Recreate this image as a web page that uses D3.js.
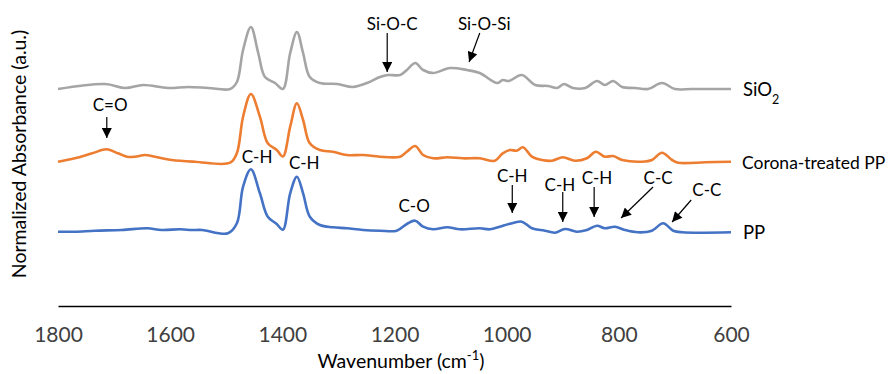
<!DOCTYPE html>
<html lang="en">

<head>
    <meta charset="UTF-8" />
    <title>FTIR spectra</title>
    <script src="https://d3js.org/d3.v7.min.js"></script>
    <style>
        body {
            margin: 0;
            background: #fff;
        }

        text {
            font-family: "Lato", sans-serif;
            fill: #000;
        }

        .tick-label {
            font-size: 21px;
            fill: #404040;
        }

        .axis-title {
            font-size: 19.5px;
        }

        .series-label {
            font-size: 18.5px;
        }

        .note {
            font-size: 17px;
        }
    </style>
</head>

<body>
    <svg width="890" height="374"></svg>
    <script>
        // spectra: [wavenumber, normalized absorbance (offset)]
        const sio2Points = [
            [1800, 2.17], [1716, 2.22], [1680, 2.18], [1648, 2.21], [1604, 2.18], [1568, 2.19], [1532, 2.18],
            [1493, 2.17], [1481, 2.24], [1470, 2.56], [1456, 2.79], [1443, 2.53], [1431, 2.29], [1413, 2.23],
            [1399, 2.17], [1386, 2.53], [1374, 2.74], [1363, 2.53], [1351, 2.29], [1333, 2.23], [1302, 2.22],
            [1274, 2.19], [1249, 2.23], [1226, 2.29], [1212, 2.31], [1190, 2.31], [1178, 2.36], [1163, 2.43],
            [1149, 2.36], [1131, 2.33], [1101, 2.38], [1071, 2.36], [1048, 2.33], [1017, 2.23], [1007, 2.26],
            [996, 2.25], [973, 2.31], [949, 2.21], [926, 2.20], [910, 2.18], [898, 2.22], [882, 2.18],
            [860, 2.18], [839, 2.25], [825, 2.21], [810, 2.25], [794, 2.19], [771, 2.18], [748, 2.17],
            [723, 2.23], [700, 2.17], [670, 2.17], [600, 2.17]
        ];
        const coronaPoints = [
            [1800, 1.443], [1770, 1.477], [1739, 1.527], [1713, 1.567], [1693, 1.527], [1677, 1.493], [1663, 1.493],
            [1645, 1.51], [1627, 1.493], [1597, 1.46], [1556, 1.443], [1493, 1.433], [1481, 1.53], [1470, 1.893],
            [1456, 2.12], [1440, 1.893], [1426, 1.627], [1410, 1.56], [1399, 1.495], [1386, 1.793], [1374, 2.027],
            [1363, 1.86], [1351, 1.627], [1333, 1.56], [1310, 1.543], [1285, 1.51], [1256, 1.51], [1226, 1.493],
            [1190, 1.493], [1178, 1.543], [1163, 1.60], [1149, 1.51], [1131, 1.477], [1106, 1.487], [1078, 1.477],
            [1048, 1.477], [1021, 1.453], [1007, 1.527], [994, 1.56], [982, 1.553], [971, 1.587], [955, 1.493],
            [937, 1.46], [919, 1.453], [900, 1.487], [878, 1.453], [857, 1.477], [841, 1.543], [825, 1.493],
            [810, 1.50], [794, 1.46], [759, 1.443], [741, 1.46], [723, 1.533], [705, 1.46], [694, 1.433],
            [646, 1.437], [600, 1.443]
        ];
        const ppPoints = [
            [1800, 0.743], [1770, 0.743], [1734, 0.753], [1686, 0.76], [1641, 0.777], [1615, 0.76], [1582, 0.767],
            [1561, 0.76], [1543, 0.76], [1497, 0.727], [1481, 0.827], [1470, 1.193], [1456, 1.367], [1440, 1.127],
            [1426, 0.893], [1410, 0.82], [1399, 0.763], [1386, 1.127], [1374, 1.293], [1363, 1.127], [1351, 0.893],
            [1333, 0.81], [1310, 0.787], [1285, 0.777], [1256, 0.76], [1226, 0.753], [1196, 0.753], [1178, 0.82],
            [1163, 0.853], [1149, 0.793], [1131, 0.767], [1106, 0.787], [1083, 0.767], [1048, 0.777], [1030, 0.767],
            [1012, 0.793], [996, 0.82], [973, 0.843], [955, 0.777], [932, 0.753], [914, 0.733], [896, 0.77],
            [875, 0.743], [857, 0.76], [839, 0.803], [825, 0.777], [807, 0.793], [789, 0.76], [766, 0.737],
            [741, 0.753], [721, 0.827], [703, 0.753], [687, 0.737], [600, 0.737]
        ];

        const seriesNames = ["SiO2", "Corona-treated PP", "PP"];
        const seriesColors = ["#a5a5a5", "#ed7d31", "#4472c4"];
        const xTicks = [1800, 1600, 1400, 1200, 1000, 800, 600];

        // band annotations: label, text anchor [wn, abs], arrow start and tip (null = no arrow)
        const notes = [
            ["C=O", [1707, 1.95], [1713, 1.89], [1713, 1.68]],
            ["Si-O-C", [1204, 2.76], [1213, 2.73], [1213, 2.34]],
            ["Si-O-Si", [1040, 2.76], [1048, 2.73], [1067, 2.44]],
            ["C-H", [1445, 1.43], null, null],
            ["C-H", [1361, 1.37], null, null],
            ["C-O", [1165, 0.94], null, null],
            ["C-H", [990, 1.24], [990, 1.21], [990, 0.93]],
            ["C-H", [905, 1.15], [900, 1.14], [900, 0.84]],
            ["C-H", [839, 1.22], [844, 1.19], [844, 0.89]],
            ["C-C", [730, 1.22], [739, 1.19], [796, 0.88]],
            ["C-C", [643, 1.10], [671, 1.06], [705, 0.84]]
        ];

        var svg = d3.select("svg");

        var x = d3.scaleLinear().domain([1800, 600]).range([58, 731]);
        var y = d3.scaleLinear().domain([0, 3.06]).range([306, 0]);

        svg.append("defs").append("marker")
            .attr("id", "head")
            .attr("viewBox", "0 0 10 10")
            .attr("refX", 10)
            .attr("refY", 5)
            .attr("markerUnits", "userSpaceOnUse")
            .attr("markerWidth", 11)
            .attr("markerHeight", 10)
            .attr("orient", "auto")
            .append("path")
            .attr("d", "M0,0L10,5L0,10Z")
            .attr("fill", "#000");

        // x axis: only the domain line and labels
        var xAxis = svg.append("g")
            .attr("transform", "translate(0,306)")
            .call(d3.axisBottom(x).tickValues(xTicks).tickSize(0).tickPadding(0).tickFormat(d3.format("d")));
        xAxis.select(".domain").attr("stroke", "#000").attr("stroke-width", 1.3);
        xAxis.selectAll(".tick text")
            .attr("class", "tick-label")
            .attr("font-family", null)
            .attr("font-size", null)
            .attr("dy", null)
            .attr("y", 36);

        // spectra
        var line = d3.line()
            .x(d => x(d[0]))
            .y(d => y(d[1]))
            .curve(d3.curveCatmullRom.alpha(0.5));

        [sio2Points, coronaPoints, ppPoints].forEach(function(pts, i) {
            svg.append("path")
                .datum(pts)
                .attr("d", line)
                .attr("fill", "none")
                .attr("stroke", seriesColors[i])
                .attr("stroke-width", 2.6)
                .attr("stroke-linejoin", "round");
        });

        // series labels at the right end
        var labelX = 743;
        var sioLabel = svg.append("text")
            .attr("class", "series-label")
            .attr("x", labelX)
            .attr("y", y(sio2Points[sio2Points.length - 1][1]) + 7);
        sioLabel.append("tspan").text("SiO");
        sioLabel.append("tspan").attr("font-size", 12.5).attr("dy", 8).text("2");

        // the long label is a bit smaller so it stays inside the frame
        svg.append("text")
            .attr("class", "series-label")
            .attr("x", labelX - 1)
            .attr("y", y(coronaPoints[coronaPoints.length - 1][1]) + 7)
            .style("font-size", "17.5px")
            .text(seriesNames[1]);

        svg.append("text")
            .attr("class", "series-label")
            .attr("x", labelX)
            .attr("y", y(ppPoints[ppPoints.length - 1][1]) + 7)
            .text(seriesNames[2]);

        // annotations
        notes.forEach(function(n) {
            svg.append("text")
                .attr("class", "note")
                .attr("x", x(n[1][0]))
                .attr("y", y(n[1][1]))
                .attr("text-anchor", "middle")
                .text(n[0]);
            if (n[2]) {
                svg.append("line")
                    .attr("x1", x(n[2][0]))
                    .attr("y1", y(n[2][1]))
                    .attr("x2", x(n[3][0]))
                    .attr("y2", y(n[3][1]))
                    .attr("stroke", "#000")
                    .attr("stroke-width", 1.2)
                    .attr("marker-end", "url(#head)");
            }
        });

        // axis titles
        var xTitle = svg.append("text")
            .attr("class", "axis-title")
            .attr("x", 401)
            .attr("y", 368)
            .attr("text-anchor", "middle");
        xTitle.append("tspan").text("Wavenumber (cm");
        xTitle.append("tspan").attr("font-size", 13).attr("dy", -8).text("-1");
        xTitle.append("tspan").attr("dy", 8).text(")");

        svg.append("text")
            .attr("class", "axis-title")
            .attr("transform", "translate(26,154) rotate(-90)")
            .attr("text-anchor", "middle")
            .text("Normalized Absorbance (a.u.)");
    </script>
</body>

</html>
